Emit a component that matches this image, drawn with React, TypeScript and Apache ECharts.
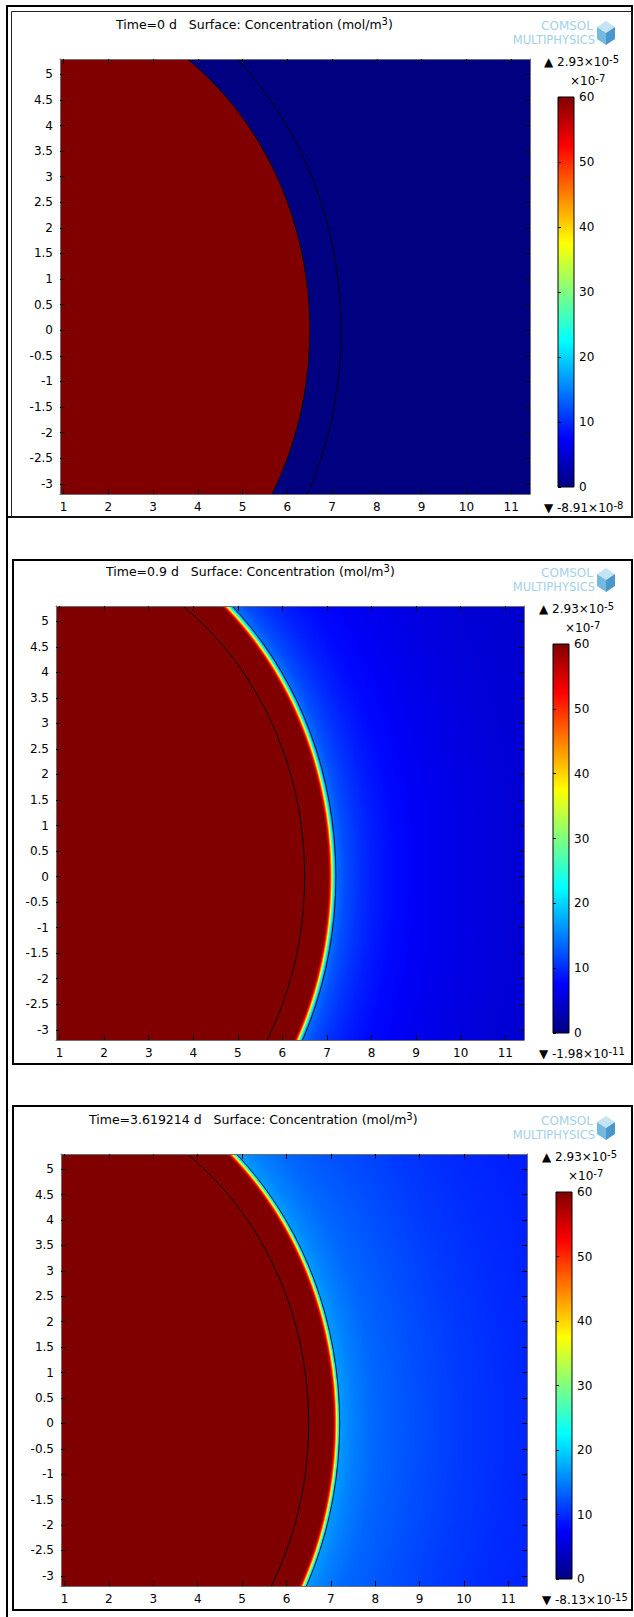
import React, { useEffect, useRef } from 'react';
import * as echarts from 'echarts';

// ---------- data ----------
const xTicks = [1, 2, 3, 4, 5, 6, 7, 8, 9, 10, 11];
const yTicks = [-3, -2.5, -2, -1.5, -1, -0.5, 0, 0.5, 1, 1.5, 2, 2.5, 3, 3.5, 4, 4.5, 5];
const colorTicks = [0, 10, 20, 30, 40, 50, 60];
const xRange = [0.92, 11.42];
const yRange = [-3.2, 5.3];

const timeLabels = ['0', '0.9', '3.619214'];
const maxMantissa = ['2.93', '2.93', '2.93'];
const maxExponent = ['-5', '-5', '-5'];
const minMantissa = ['-8.91', '-1.98', '-8.13'];
const minExponent = ['-8', '-11', '-15'];
const scaleExponent = '-7';

// radial concentration profiles (×10⁻⁷ mol/m³) against distance from the origin
const p1Radius = [0, 6.5, 6.5, 12.7];
const p1Conc = [60, 60, 0, 0];
const p2Radius = [0, 7.03, 7.07, 7.11, 7.15, 7.2, 7.4, 7.7, 8.0, 8.5, 9.0, 10.0, 11.0, 12.7];
const p2Conc = [60, 60, 52.5, 37.5, 22.5, 14, 12, 10.5, 9.3, 8, 7, 6, 5.2, 4.5];
const p3Radius = [0, 7.05, 7.09, 7.13, 7.17, 7.21, 7.5, 8.0, 9.0, 10.0, 11.0, 12.7];
const p3Conc = [60, 60, 52.5, 37.5, 22.5, 16.5, 15, 13.5, 12, 10.8, 10, 9];
const boundaryRadii = [6.5, 7.2];

// ---------- layout / style ----------
const FONT = "'DejaVu Sans', sans-serif";
const panels = [
  { left: 60, top: 59, width: 470, height: 435, titleX: 116, titleY: 23, cbLeft: 558, cbTop: 97, cbWidth: 16, cbHeight: 390, frame: [7, 6, 625, 511] },
  { left: 56, top: 606, width: 468, height: 434, titleX: 106, titleY: 570, cbLeft: 553, cbTop: 644, cbWidth: 16, cbHeight: 389, frame: [13, 560, 619, 504] },
  { left: 61, top: 1154, width: 466, height: 432, titleX: 89, titleY: 1118, cbLeft: 556, cbTop: 1192, cbWidth: 16, cbHeight: 387, frame: [13, 1106, 619, 504] },
];
const profiles = [
  { radius: p1Radius, conc: p1Conc },
  { radius: p2Radius, conc: p2Conc },
  { radius: p3Radius, conc: p3Conc },
];

const rich = {
  n: { fontSize: 12, fontFamily: FONT, color: '#000', lineHeight: 16, verticalAlign: 'middle' },
  s: { fontSize: 10, fontFamily: FONT, color: '#000', lineHeight: 10, verticalAlign: 'top' },
};
const richTitle = {
  n: { fontSize: 12.5, fontFamily: FONT, color: '#000', lineHeight: 16, verticalAlign: 'middle' },
  s: { fontSize: 10, fontFamily: FONT, color: '#000', lineHeight: 10, verticalAlign: 'top' },
};

function jet(v: number): string {
  const t = Math.max(0, Math.min(1, v / 60));
  const f = (c: number) => Math.max(0, Math.min(1, 1.5 - Math.abs(4 * t - c)));
  return `rgb(${Math.round(f(3) * 255)},${Math.round(f(2) * 255)},${Math.round(f(1) * 255)})`;
}
const jetBreaks = [0, 7.5, 22.5, 37.5, 52.5, 60];

function axis(gridIndex: number, position: string, range: number[], ticks: number[], showLabel: boolean) {
  return {
    type: 'value',
    gridIndex,
    position,
    min: range[0],
    max: range[1],
    z: 6,
    axisLine: { show: true, onZero: false, lineStyle: { color: '#6e6e6e', width: 1 } },
    axisTick: { show: true, inside: true, length: 5, customValues: ticks, lineStyle: { color: '#000', width: 1 } },
    axisLabel: { show: showLabel, customValues: ticks, margin: 7, color: '#000', fontSize: 12, fontFamily: FONT },
    splitLine: { show: false },
  };
}

function supText(x: number, y: number, main: string, exp: string) {
  return {
    type: 'text', x, y,
    style: { text: `{n|${main}}{s|${exp}}`, rich, textAlign: 'left', textVerticalAlign: 'middle' },
  };
}

function buildOption() {
  const grid: any[] = [];
  const xAxis: any[] = [];
  const yAxis: any[] = [];
  const series: any[] = [];
  const title: any[] = [];
  const graphic: any[] = [];

  panels.forEach((p) => {
    grid.push({ left: p.left, top: p.top, width: p.width, height: p.height, containLabel: false, outerBoundsMode: 'none' });
  });
  panels.forEach((p) => {
    grid.push({ left: p.cbLeft, top: p.cbTop, width: p.cbWidth, height: p.cbHeight, containLabel: false, outerBoundsMode: 'none' });
  });

  panels.forEach((p, i) => {
    xAxis.push(axis(i, 'bottom', xRange, xTicks, true));
    xAxis.push(axis(i, 'top', xRange, xTicks, false));
    yAxis.push(axis(i, 'left', yRange, yTicks, true));
    yAxis.push(axis(i, 'right', yRange, yTicks, false));
  });
  panels.forEach((p, i) => {
    xAxis.push({ type: 'value', gridIndex: 3 + i, min: 0, max: 1, show: false });
    yAxis.push({
      type: 'value', gridIndex: 3 + i, position: 'right', min: colorTicks[0], max: colorTicks[colorTicks.length - 1], interval: 10, z: 6,
      axisLine: { show: false },
      axisTick: { show: true, inside: false, length: 3, lineStyle: { color: '#000' } },
      axisLabel: { show: true, margin: 5, color: '#000', fontSize: 12, fontFamily: FONT },
      splitLine: { show: false },
    });
  });

  panels.forEach((p, i) => {
    const prof = profiles[i];
    const rMax = prof.radius[prof.radius.length - 1];
    series.push({
      type: 'custom',
      xAxisIndex: 2 * i,
      yAxisIndex: 2 * i,
      clip: true,
      silent: true,
      z: 2,
      data: [[0, 0, rMax]],
      renderItem: (params: any, api: any) => {
        const c = api.coord([api.value(0), api.value(1)]);
        const u = api.coord([api.value(0) + 1, api.value(1) + 1]);
        const kx = u[0] - c[0];
        const ky = c[1] - u[1];
        const R = api.value(2);
        const stops = prof.radius.map((r, j) => ({ offset: r / R, color: jet(prof.conc[j]) }));
        return {
          type: 'circle',
          x: c[0],
          y: c[1],
          scaleX: 1,
          scaleY: ky / kx,
          shape: { cx: 0, cy: 0, r: R * kx },
          style: { fill: { type: 'radial', x: 0.5, y: 0.5, r: 0.5, colorStops: stops } },
        };
      },
    });
    series.push({
      type: 'custom',
      xAxisIndex: 2 * i,
      yAxisIndex: 2 * i,
      clip: true,
      silent: true,
      z: 3,
      data: boundaryRadii.map((r) => [0, 0, r]),
      renderItem: (params: any, api: any) => {
        const c = api.coord([api.value(0), api.value(1)]);
        const u = api.coord([api.value(0) + 1, api.value(1) + 1]);
        const kx = u[0] - c[0];
        const ky = c[1] - u[1];
        const r = api.value(2);
        return {
          type: 'ellipse',
          shape: { cx: c[0], cy: c[1], rx: r * kx, ry: r * ky },
          style: { fill: 'none', stroke: '#000', lineWidth: 0.9 },
        };
      },
    });
    // colour bar
    series.push({
      type: 'custom',
      xAxisIndex: 6 + i,
      yAxisIndex: 6 + i,
      silent: true,
      z: 2,
      data: [[0, colorTicks[0], 1, colorTicks[colorTicks.length - 1]]],
      renderItem: (params: any, api: any) => {
        const a = api.coord([api.value(0), api.value(1)]);
        const b = api.coord([api.value(2), api.value(3)]);
        const lo = api.value(1);
        const hi = api.value(3);
        return {
          type: 'rect',
          shape: { x: a[0], y: b[1], width: b[0] - a[0], height: a[1] - b[1] },
          style: {
            fill: {
              type: 'linear', x: 0, y: 1, x2: 0, y2: 0,
              colorStops: jetBreaks.map((v) => ({ offset: (v - lo) / (hi - lo), color: jet(v) })),
            },
            stroke: '#000',
            lineWidth: 1,
          },
        };
      },
    });

    title.push({
      text: `{n|Time=${timeLabels[i]} d   Surface: Concentration (mol/m}{s|3}{n|)}`,
      left: p.titleX,
      top: p.titleY - 7,
      padding: 0,
      textStyle: { fontSize: 12.5, fontWeight: 'normal', color: '#000', fontFamily: FONT, rich: richTitle },
    });

    // colour bar texts
    graphic.push(supText(p.cbLeft - 14, p.cbTop - 35, `▲ ${maxMantissa[i]}×10`, maxExponent[i]));
    graphic.push(supText(p.cbLeft + 12, p.cbTop - 16, '×10', scaleExponent));
    graphic.push(supText(p.cbLeft - 14, p.cbTop + p.cbHeight + 21, `▼ ${minMantissa[i]}×10`, minExponent[i]));

    // logo
    const ly = p.titleY;
    graphic.push({ type: 'text', x: 593, y: ly + 3, style: { text: 'COMSOL', font: `12px ${FONT}`, fill: '#a3d0e8', textAlign: 'right', textVerticalAlign: 'middle' } });
    graphic.push({ type: 'text', x: 595, y: ly + 17, style: { text: 'MULTIPHYSICS', font: `11.5px ${FONT}`, fill: '#a3d0e8', textAlign: 'right', textVerticalAlign: 'middle' } });
    const cx = 606, cy = ly + 10, s = 12, w = 0.75;
    graphic.push({ type: 'polygon', shape: { points: [[cx, cy - s], [cx + s * w, cy - s * 0.5], [cx, cy], [cx - s * w, cy - s * 0.5]] }, style: { fill: '#c4e4f5' } });
    graphic.push({ type: 'polygon', shape: { points: [[cx - s * w, cy - s * 0.5], [cx, cy], [cx, cy + s], [cx - s * w, cy + s * 0.5]] }, style: { fill: '#74b9e0' } });
    graphic.push({ type: 'polygon', shape: { points: [[cx, cy], [cx + s * w, cy - s * 0.5], [cx + s * w, cy + s * 0.5], [cx, cy + s]] }, style: { fill: '#4a98cb' } });

    // panel frame
    const f = p.frame;
    graphic.push({ type: 'rect', shape: { x: f[0], y: f[1], width: f[2], height: f[3] }, style: { fill: 'none', stroke: '#000', lineWidth: 2 } });
    if (i === 0) {
      graphic.push({ type: 'rect', shape: { x: 11.5, y: 11.5, width: f[0] + f[2] - 11.5, height: f[1] + f[3] - 11.5 }, style: { fill: 'none', stroke: '#222', lineWidth: 1 } });
    }
  });

  // page line on the left
  graphic.push({ type: 'line', shape: { x1: 7, y1: 5, x2: 7, y2: 1617 }, style: { stroke: '#000', lineWidth: 2 } });

  return {
    animation: false,
    backgroundColor: '#fff',
    title,
    grid,
    xAxis,
    yAxis,
    series,
    graphic: { elements: graphic },
  };
}

export default function App() {
  const ref = useRef<HTMLDivElement>(null);
  useEffect(() => {
    const chart = echarts.init(ref.current as HTMLDivElement, null, { renderer: 'svg', width: 634, height: 1617 });
    chart.setOption(buildOption() as any);
    return () => chart.dispose();
  }, []);
  return <div ref={ref} style={{ position: 'absolute', left: 0, top: 0, width: 634, height: 1617, background: '#fff' }} />;
}
